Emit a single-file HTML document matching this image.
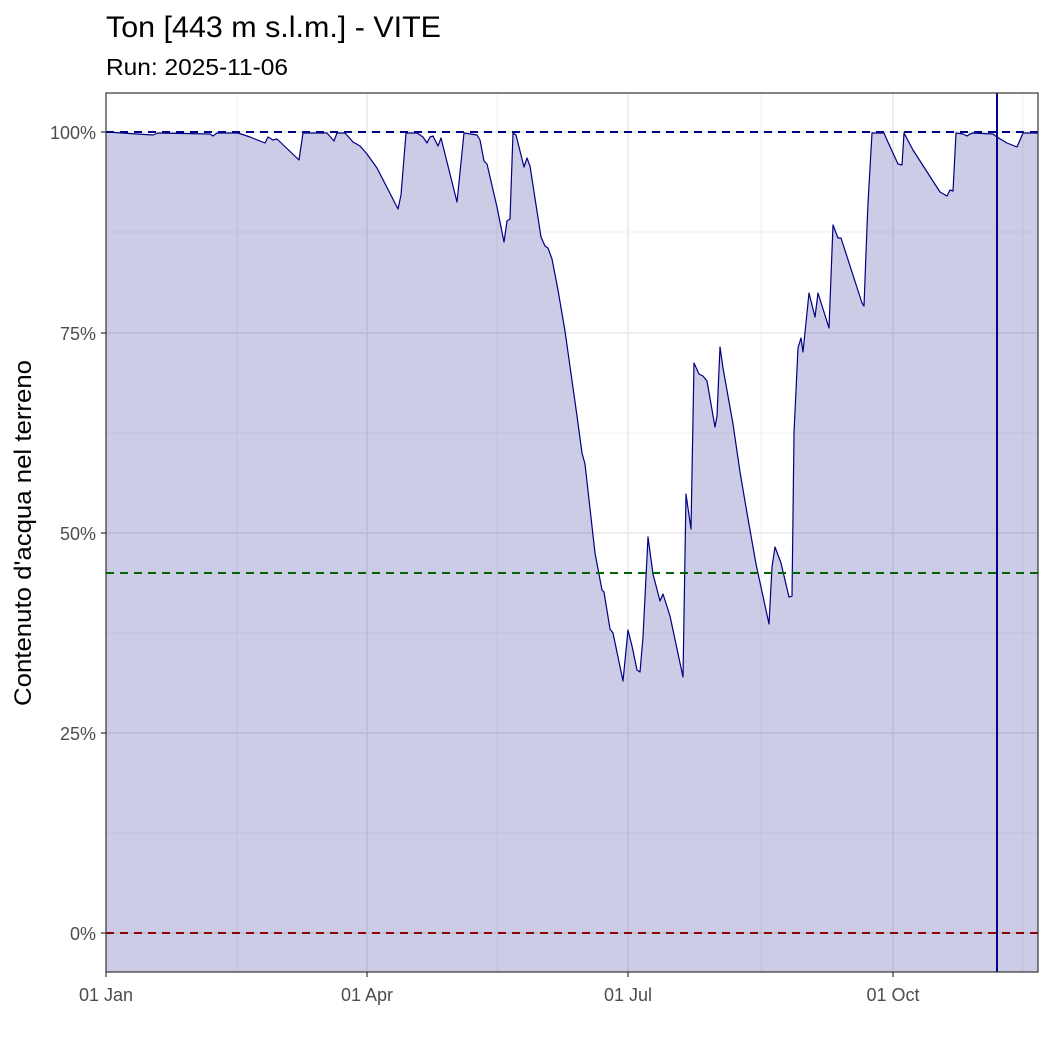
<!DOCTYPE html>
<html><head><meta charset="utf-8"><style>body{margin:0;background:#fff}svg{display:block}text{font-family:"Liberation Sans",sans-serif}</style></head>
<body>
<svg width="1050" height="1050" viewBox="0 0 1050 1050" xmlns="http://www.w3.org/2000/svg">
<rect width="1050" height="1050" fill="#fff"/>
<g stroke="#ebebeb" stroke-width="0.8">
<line x1="106" x2="1038" y1="232" y2="232"/><line x1="106" x2="1038" y1="433" y2="433"/><line x1="106" x2="1038" y1="633" y2="633"/><line x1="106" x2="1038" y1="833" y2="833"/>
<line y1="93" y2="972" x1="237" x2="237"/><line y1="93" y2="972" x1="497" x2="497"/><line y1="93" y2="972" x1="761" x2="761"/><line y1="93" y2="972" x1="1023" x2="1023"/>
</g>
<g stroke="#ebebeb" stroke-width="1.8">
<line x1="106" x2="1038" y1="132" y2="132"/><line x1="106" x2="1038" y1="333" y2="333"/><line x1="106" x2="1038" y1="533" y2="533"/><line x1="106" x2="1038" y1="733" y2="733"/><line x1="106" x2="1038" y1="933" y2="933"/>
<line y1="93" y2="972" x1="367" x2="367"/><line y1="93" y2="972" x1="628" x2="628"/><line y1="93" y2="972" x1="893" x2="893"/>
</g>
<polygon fill="#000080" fill-opacity="0.2" points="106,972 106,132 153,135 158,133 210,134 213,136 217,133 238,133 250,137 265,143 268,137 273,140 277,139 299,160 303,133 327,133 334,141 337,133 345,133 353,142 360,146 367,154 377,168 398,209 401,195 406,133 417,133 423,137 427,143 430,137 433,136 438,146 441,138 457,202 464,133 477,135 480,140 484,161 487,164 497,207 504,242 507,221 510,219 513,133 516,135 524,167 527,158 530,166 541,237 545,246 548,248 552,259 558,290 565,331 577,416 582,453 585,464 595,553 602,590 604,592 610,629 613,633 623,681 628,630 632,646 637,670 640,672 643,637 648,537 653,574 660,601 663,594 670,616 683,677 686,494 691,529 694,363 699,374 703,376 707,381 715,427 717,416 720,347 723,368 728,396 733,424 740,472 747,513 756,564 769,624 772,567 775,547 781,563 789,597 792,596 794,433 798,348 801,338 803,352 809,293 815,317 818,293 829,328 833,225 838,238 841,238 862,303 864,306 867,227 868,203 872,133 884,133 887,140 898,164 902,165 904,133 913,150 940,192 947,196 950,190 953,191 956,133 963,134 967,136 970,134 973,133 993,134 997,137 1007,143 1017,147 1023,133 1038,133 1038,972"/>
<polyline fill="none" stroke="#000080" stroke-width="1.2" stroke-linejoin="round" points="106,132 153,135 158,133 210,134 213,136 217,133 238,133 250,137 265,143 268,137 273,140 277,139 299,160 303,133 327,133 334,141 337,133 345,133 353,142 360,146 367,154 377,168 398,209 401,195 406,133 417,133 423,137 427,143 430,137 433,136 438,146 441,138 457,202 464,133 477,135 480,140 484,161 487,164 497,207 504,242 507,221 510,219 513,133 516,135 524,167 527,158 530,166 541,237 545,246 548,248 552,259 558,290 565,331 577,416 582,453 585,464 595,553 602,590 604,592 610,629 613,633 623,681 628,630 632,646 637,670 640,672 643,637 648,537 653,574 660,601 663,594 670,616 683,677 686,494 691,529 694,363 699,374 703,376 707,381 715,427 717,416 720,347 723,368 728,396 733,424 740,472 747,513 756,564 769,624 772,567 775,547 781,563 789,597 792,596 794,433 798,348 801,338 803,352 809,293 815,317 818,293 829,328 833,225 838,238 841,238 862,303 864,306 867,227 868,203 872,133 884,133 887,140 898,164 902,165 904,133 913,150 940,192 947,196 950,190 953,191 956,133 963,134 967,136 970,134 973,133 993,134 997,137 1007,143 1017,147 1023,133 1038,133"/>
<g stroke-width="2" stroke-dasharray="8,6" fill="none">
<line x1="106" x2="1038" y1="132" y2="132" stroke="#00008b"/>
<line x1="106" x2="1038" y1="573" y2="573" stroke="#006400"/>
<line x1="106" x2="1038" y1="933" y2="933" stroke="#8b0000"/>
</g>
<line x1="997" x2="997" y1="93" y2="972" stroke="#00008b" stroke-width="2"/>
<rect x="106" y="93" width="932" height="879" fill="none" stroke="#333" stroke-width="1.2"/>
<g stroke="#333" stroke-width="1.2">
<line x1="101" x2="106" y1="132" y2="132"/><line x1="101" x2="106" y1="333" y2="333"/><line x1="101" x2="106" y1="533" y2="533"/><line x1="101" x2="106" y1="733" y2="733"/><line x1="101" x2="106" y1="933" y2="933"/>
<line y1="972" y2="977" x1="106" x2="106"/><line y1="972" y2="977" x1="367" x2="367"/><line y1="972" y2="977" x1="628" x2="628"/><line y1="972" y2="977" x1="893" x2="893"/>
</g>
<g fill="#4d4d4d" font-size="18" text-anchor="end">
<text x="96" y="139">100%</text><text x="96" y="340">75%</text><text x="96" y="540">50%</text><text x="96" y="740">25%</text><text x="96" y="940">0%</text>
</g>
<g fill="#4d4d4d" font-size="18" text-anchor="middle">
<text x="106" y="1001">01 Jan</text><text x="367" y="1001">01 Apr</text><text x="628" y="1001">01 Jul</text><text x="893" y="1001">01 Oct</text>
</g>
<text x="106" y="37" font-size="30" textLength="335" lengthAdjust="spacingAndGlyphs">Ton [443 m s.l.m.] - VITE</text>
<text x="106" y="75" font-size="23" textLength="182" lengthAdjust="spacingAndGlyphs">Run: 2025-11-06</text>
<text transform="translate(31,533) rotate(-90)" font-size="24" text-anchor="middle" textLength="346" lengthAdjust="spacingAndGlyphs">Contenuto d'acqua nel terreno</text>
</svg>
</body></html>
